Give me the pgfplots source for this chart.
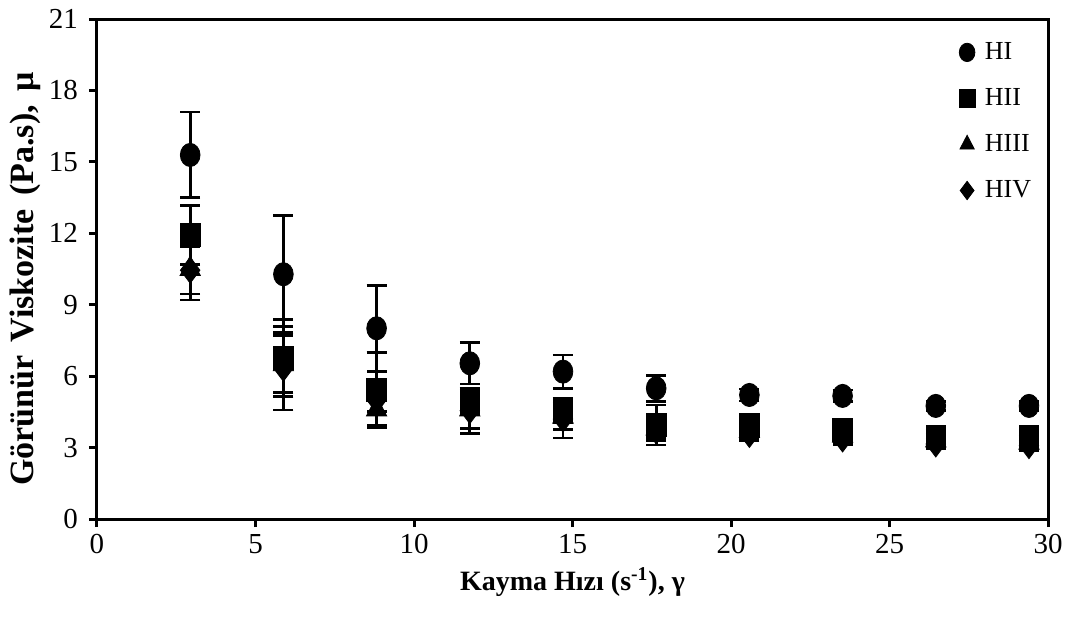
\documentclass[border=0pt]{standalone}
\usepackage{fontspec}
\setmainfont{Liberation Serif}
\usepackage{pgfplots}
\pgfplotsset{compat=1.18}

\pgfplotstableread{
x y e
2.94 15.29 1.80
5.88 10.28 2.46
8.82 8.01 1.80
11.76 6.54 0.87
14.70 6.19 0.70
17.64 5.49 0.55
20.58 5.21 0.25
23.52 5.17 0.25
26.46 4.75 0.20
29.40 4.75 0.20
}\hI
\pgfplotstableread{
x y e
2.94 11.93 1.24
5.88 6.76 1.63
8.82 5.42 1.57
11.76 4.93 0.55
14.70 4.55 0.50
17.64 3.95 0.84
20.58 3.95 0.30
23.52 3.74 0.30
26.46 3.46 0.25
29.40 3.46 0.25
}\hII
\pgfplotstableread{
x y e
2.94 10.50 1.30
5.88 6.50 1.20
8.82 4.60 0.65
11.76 4.60 0.80
14.70 4.30 0.55
17.64 3.80 0.40
20.58 3.70 0.30
23.52 3.50 0.30
26.46 3.30 0.25
29.40 3.20 0.25
}\hIII
\pgfplotstableread{
x y e
2.94 10.45 1.00
5.88 6.33 1.75
8.82 5.00 0.50
11.76 4.55 0.95
14.70 4.20 0.80
17.64 3.70 0.40
20.58 3.55 0.25
23.52 3.36 0.25
26.46 3.15 0.20
29.40 3.08 0.20
}\hIV

\begin{document}
\begin{tikzpicture}
\begin{axis}[
  scale only axis,
  width=475.5pt,
  height=250pt,
  xmin=0, xmax=30,
  ymin=0, ymax=21,
  xtick={0,5,...,30},
  ytick={0,3,...,21},
  tick pos=left,
  tick align=outside,
  major tick length=4pt,
  axis line style={line width=1.5pt},
  every tick/.style={black,line width=1.5pt},
  /pgf/number format/assume math mode=true,
  tick label style={font=\fontsize{14.5}{17}\selectfont},
  yticklabel style={xshift=-2pt},
  xlabel={\textbf{Kayma Hızı (s\textsuperscript{-1}), γ}},
  ylabel={\textbf{Görünür\hspace{0.4em}Viskozite\hspace{0.4em}(Pa.s),\hspace{0.4em}μ}},
  xlabel style={font=\fontsize{14}{16}\selectfont},
  ylabel style={font=\fontsize{17}{19}\selectfont,yshift=-3pt,xshift=-5pt},
  legend style={at={(rel axis cs:0.9,0.97)},anchor=north west,draw=none,fill=none,
    font=\fontsize{13}{15}\selectfont,row sep=9pt,column sep=3pt},
  legend cell align=left,
  legend image post style={mark size=4.6pt},
  error bars/y dir=both,
  error bars/y explicit,
  error bars/error bar style={line width=1.4pt,black},
  error bars/error mark options={rotate=90,mark size=5pt,line width=1.4pt,black},
]
\addplot[only marks,black,mark=*,mark size=5.8pt,mark options={xscale=0.85,fill=black}] table[x=x,y=y,y error=e] {\hI};
\addplot[only marks,black,mark=square*,mark size=5.8pt,mark options={xscale=0.85,fill=black}] table[x=x,y=y,y error=e] {\hII};
\addplot[only marks,black,mark=triangle*,mark size=6.5pt,mark options={xscale=0.9,fill=black}] table[x=x,y=y,y error=e] {\hIII};
\addplot[only marks,black,mark=diamond*,mark size=6.5pt,mark options={fill=black}] table[x=x,y=y,y error=e] {\hIV};
\legend{HI,HII,HIII,HIV}
\coordinate (sw) at (rel axis cs:0,0);
\coordinate (ne) at (rel axis cs:1,1);
\end{axis}
\pgfresetboundingbox
\path ([shift={(-48.5pt,-52pt)}]sw) rectangle ([shift={(13.5pt,9.5pt)}]ne);
\end{tikzpicture}
\end{document}
